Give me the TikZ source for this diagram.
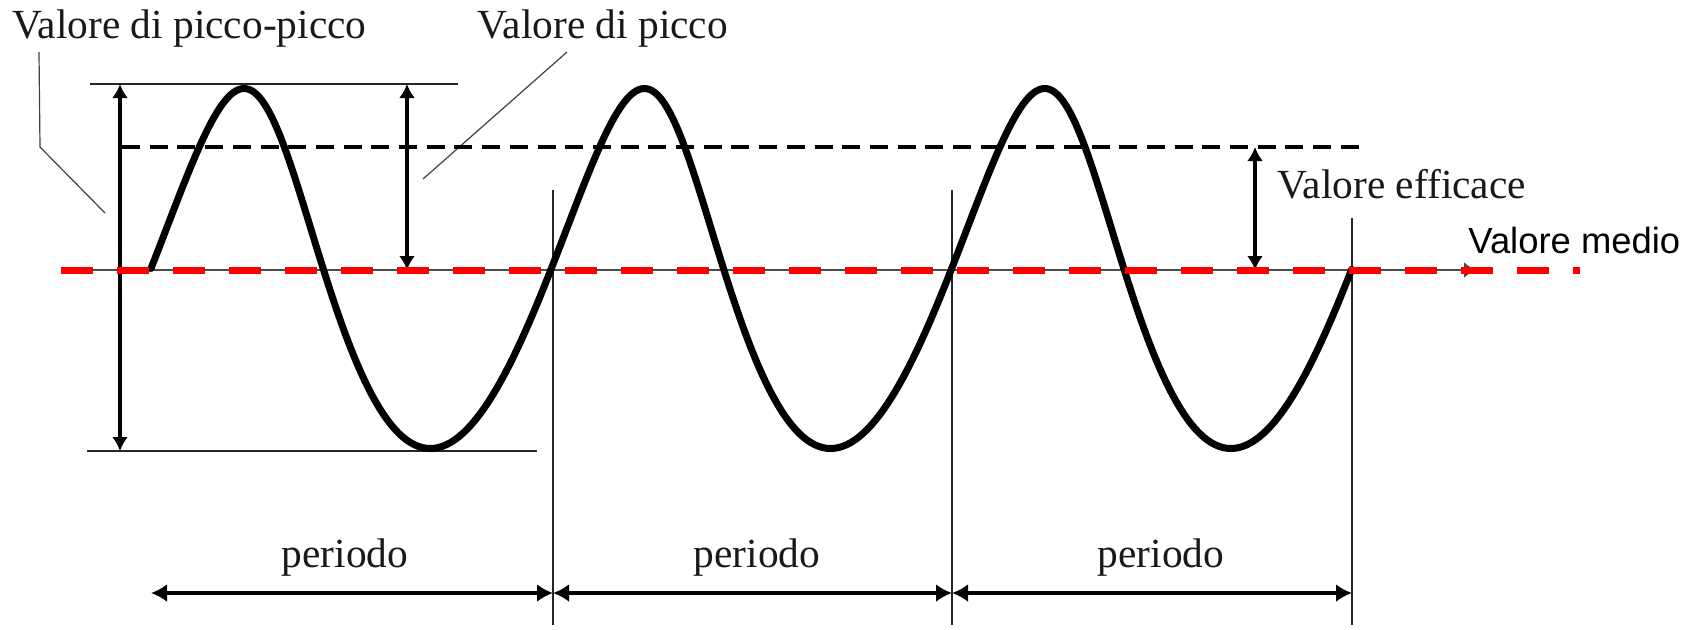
\documentclass[tikz,border=0pt]{standalone}
\usepackage{fontspec}
\setmainfont{Liberation Serif}
\newfontfamily\arialfont{Liberation Sans}
\usetikzlibrary{arrows.meta}
\begin{document}
\begin{tikzpicture}[x=0.5pt,y=-0.5pt,
  thinline/.style={line width=1pt,black!85},
  leader/.style={line width=0.6pt,black!75},
  dimarrow/.style={line width=1.6pt,{Latex[length=7pt,width=8pt]}-{Latex[length=7pt,width=8pt]}},
  perarrow/.style={line width=1.6pt,{Latex[length=8pt,width=9pt]}-{Latex[length=8pt,width=9pt]}},
  wave/.style={line width=3.5pt,line join=round,line cap=round},
  rms/.style={line width=2.4pt,dash pattern=on 9pt off 4.85pt},
  redmean/.style={line width=3.5pt,red,dash pattern=on 16pt off 12pt},
  axisline/.style={line width=1pt,black!70,-{Latex[length=6pt,width=8pt]}},
  seriflabel/.style={inner sep=0pt,anchor=base west,text=black!90,font=\fontsize{20.7}{24}\selectfont},
  sanslabel/.style={inner sep=0pt,anchor=base west,font=\arialfont\fontsize{18.2}{22}\selectfont},
  perlabel/.style={inner sep=0pt,anchor=base,text=black!90,font=\fontsize{20.7}{24}\selectfont}]
\useasboundingbox (0,0) rectangle (1700,629);

% key coordinates
\coordinate (topL) at (90,84);   \coordinate (topR) at (458,84);
\coordinate (botL) at (87,451);  \coordinate (botR) at (537,451);
\coordinate (ppT) at (120,84);   \coordinate (ppB) at (120,451);
\coordinate (pT) at (407,84);    \coordinate (pB) at (407,270);
\coordinate (eT) at (1255,147);  \coordinate (eB) at (1255,270);
\coordinate (rmsL) at (122,147); \coordinate (rmsR) at (1363,147);
\coordinate (axL) at (61,270);   \coordinate (axR) at (1476,270);
\coordinate (redL) at (61,270);  \coordinate (redR) at (1580,270);
\coordinate (v1T) at (553,190);  \coordinate (v1B) at (553,625);
\coordinate (v2T) at (952,190);  \coordinate (v2B) at (952,625);
\coordinate (v3T) at (1352,218); \coordinate (v3B) at (1352,625);
\coordinate (a0) at (151,593);   \coordinate (a1) at (553,593);
\coordinate (a2) at (952,593);   \coordinate (a3) at (1352,593);

% labels
\node[seriflabel] (lpp) at (12,38) {Valore di picco-picco};
\node[seriflabel] (lp) at (477,38) {Valore di picco};
\node[seriflabel] (le) at (1277,198) {Valore efficace};
\node[sanslabel] (lm) at (1468,253) {Valore medio};
\node[perlabel] (per1) at (345,567) {periodo};
\node[perlabel] (per2) at (757,567) {periodo};
\node[perlabel] (per3) at (1161,567) {periodo};

% leader lines
\coordinate (lppA) at (39,52); \coordinate (lppB) at (40,147); \coordinate (lppC) at (105,213);
\draw[leader] (lppA) -- (lppB) -- (lppC);
\coordinate (lpA) at (567,52); \coordinate (lpB) at (423,179);
\draw[leader] (lpA) -- (lpB);

% reference lines
\draw[thinline] (topL) -- (topR);
\draw[thinline] (botL) -- (botR);
\draw[thinline] (v1T) -- (v1B);
\draw[thinline] (v2T) -- (v2B);
\draw[thinline] (v3T) -- (v3B);
\draw[axisline] (axL) -- (axR);

% rms dashed line
\draw[rms] (rmsL) -- (rmsR);

% waveform
\draw[wave] plot[domain=0:3,samples=361,variable=\u]
  ({151+400.33*(\u+0.0175*sin(360*\u)-0.035*(1-cos(360*\u)))},{268.5-180*sin(360*\u)});

% dimension arrows
\draw[dimarrow] (ppT) -- (ppB);
\draw[dimarrow] (pT) -- (pB);
\draw[dimarrow] (eT) -- (eB);
\draw[perarrow] (a0) -- (a1);
\draw[perarrow] (a1) -- (a2);
\draw[perarrow] (a2) -- (a3);

% mean value (red dashed)
\draw[redmean] (redL) -- (redR);
\end{tikzpicture}
\end{document}
